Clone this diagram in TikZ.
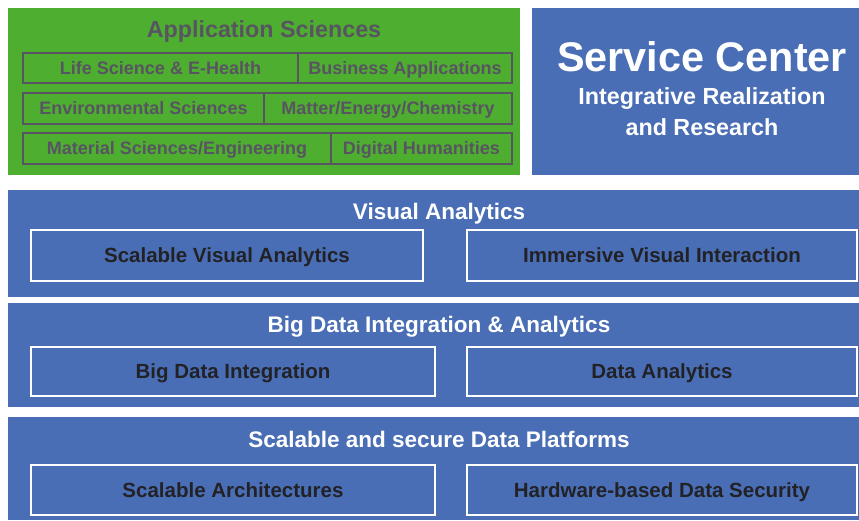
\documentclass[tikz,border=0pt]{standalone}
\usepackage{fontspec}
\setmainfont{Liberation Sans}
\definecolor{appgreen}{RGB}{78,174,47}
\definecolor{appgray}{RGB}{88,84,98}
\definecolor{layerblue}{RGB}{73,110,181}
\definecolor{darktext}{RGB}{34,34,38}
\tikzset{
  fsz/.style={font=\bfseries\fontsize{#1}{#1}\selectfont, text height=0.716*#1, text depth=0pt},
  area/.style={inner sep=0pt, outer sep=0pt, anchor=north west},
  greenarea/.style={area, fill=appgreen},
  bluearea/.style={area, fill=layerblue},
  gcell/.style={area, draw=appgray, line width=2.6pt, text=appgray, fsz=18},
  bcell/.style={area, draw=white, line width=2.4pt, text=darktext, fsz=20.5},
  layertitle/.style={text=white, fsz=22.5, inner sep=0pt},
}
\begin{document}
\begin{tikzpicture}[x=1pt, y=-1pt]
\useasboundingbox (0,0) rectangle (859,520);
\fill[white] (0,0) rectangle (859,520);

% Application sciences
\node[greenarea, minimum width=512, minimum height=167] (apps) at (8,8) {};
\node[text=appgray, fsz=23.3, inner sep=0pt] (appstitle) at (264,29) {Application Sciences};
\node[gcell, minimum width=275, minimum height=30] (life) at (23,53) {Life Science \& E-Health};
\node[gcell, minimum width=214, minimum height=30] (business) at (298,53) {Business Applications};
\node[gcell, minimum width=241, minimum height=31] (env) at (23,93) {Environmental Sciences};
\node[gcell, minimum width=248, minimum height=31] (matter) at (264,93) {Matter/Energy/Chemistry};
\node[gcell, minimum width=308, minimum height=31] (material) at (23,133) {Material Sciences/Engineering};
\node[gcell, minimum width=181, minimum height=31] (digital) at (331,133) {Digital Humanities};

% Service center
\node[bluearea, minimum width=327, minimum height=167] (service) at (532,8) {};
\node[text=white, fsz=41.4, inner sep=0pt] (servicetitle) at (702,57) {Service Center};
\node[text=white, fsz=23.3, inner sep=0pt] (servicesub1) at (702,96) {Integrative Realization};
\node[text=white, fsz=23.3, inner sep=0pt] (servicesub2) at (702,127) {and Research};

% Visual analytics layer
\node[bluearea, minimum width=851, minimum height=107] (vis) at (8,190) {};
\node[layertitle] (vistitle) at (439,211) {Visual Analytics};
\node[bcell, minimum width=392, minimum height=51] (svis) at (31,230) {Scalable Visual Analytics};
\node[bcell, minimum width=390, minimum height=51] (immersive) at (467,230) {Immersive Visual Interaction};

% Big data layer
\node[bluearea, minimum width=851, minimum height=104] (bigdata) at (8,303) {};
\node[layertitle] (bigdatatitle) at (439,324) {Big Data Integration \& Analytics};
\node[bcell, minimum width=404, minimum height=49] (integration) at (31,347) {Big Data Integration};
\node[bcell, minimum width=390, minimum height=49] (analytics) at (467,347) {Data Analytics};

% Data platforms layer
\node[bluearea, minimum width=851, minimum height=103] (platforms) at (8,417) {};
\node[layertitle] (platformstitle) at (439,439) {Scalable and secure Data Platforms};
\node[bcell, minimum width=404, minimum height=50] (arch) at (31,465) {Scalable Architectures};
\node[bcell, minimum width=390, minimum height=50] (security) at (467,465) {Hardware-based Data Security};
\end{tikzpicture}
\end{document}
